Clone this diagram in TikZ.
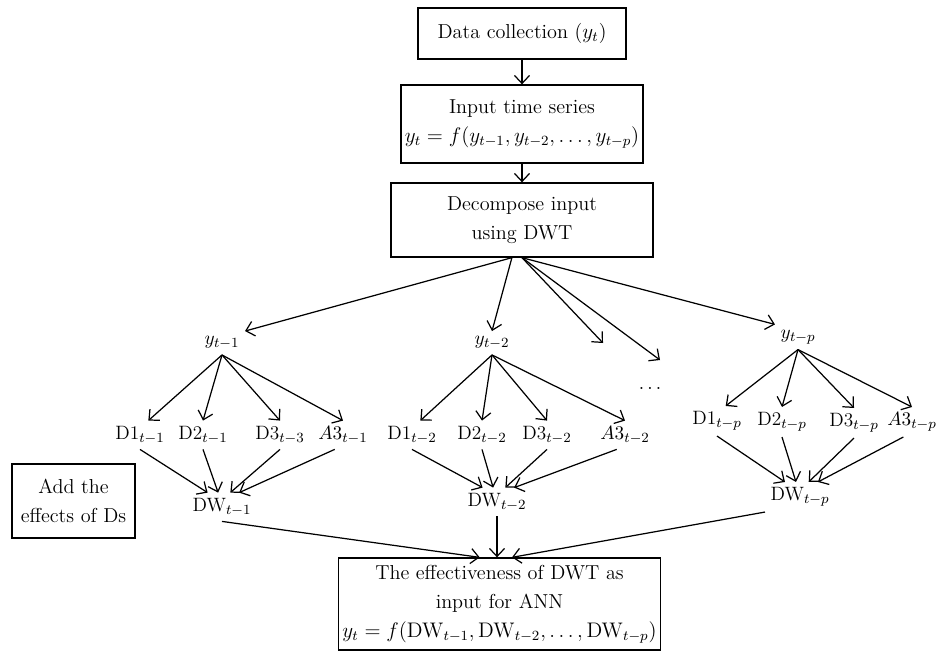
\documentclass[tikz,border=0pt]{standalone}
\usetikzlibrary{arrows.meta}
\begin{document}
\begin{tikzpicture}[
    box/.style={draw, line width=0.75pt, align=center, font=\fontsize{11.5}{16.5}\selectfont, inner sep=2pt},
    lbl/.style={inner sep=3pt, font=\fontsize{11}{13}\selectfont},
    arrow/.style={-{Straight Barb[length=1.6mm,width=3mm]}, line width=0.7pt}
  ]
  \useasboundingbox (0,0) rectangle (18.74,-13.04);

  % Main boxes
  \node[box, minimum width=4.16cm, minimum height=1.02cm] (data) at (10.44,-0.67) {Data collection ($y_t$)};
  \node[box, minimum width=4.84cm, minimum height=1.56cm] (input) at (10.44,-2.48) {Input time series\\$y_t = f(y_{t-1}, y_{t-2}, \dots, y_{t-p})$};
  \node[box, minimum width=5.24cm, minimum height=1.48cm] (decomp) at (10.44,-4.40) {Decompose input\\using DWT};
  \node[box, minimum width=2.46cm, minimum height=1.48cm] (effects) at (1.47,-10.02) {Add the\\effects of Ds};
  \node[box, minimum width=6.42cm, minimum height=1.84cm] (ann) at (9.99,-12.08) {The effectiveness of DWT as\\input for ANN\\$y_t = f(\mathrm{DW}_{t-1}, \mathrm{DW}_{t-2}, \dots, \mathrm{DW}_{t-p})$};

  % Lagged inputs
  \node[lbl] (y1) at (4.44,-6.86) {$y_{t-1}$};
  \node[lbl] (y2) at (9.84,-6.86) {$y_{t-2}$};
  \node[lbl] (yp) at (15.96,-6.74) {$y_{t-p}$};
  \node[lbl] (dots) at (13.00,-7.76) {$\dots$};
  \coordinate (dotsa) at (12.06,-6.86);
  \coordinate (dotsb) at (13.20,-7.20);

  % Wavelet components
  \node[lbl] (d11) at (2.80,-8.70) {D1$_{t-1}$};
  \node[lbl] (d21) at (4.06,-8.70) {D2$_{t-1}$};
  \node[lbl] (d31) at (5.60,-8.70) {D3$_{t-3}$};
  \node[lbl] (a31) at (6.86,-8.70) {$A3_{t-1}$};
  \node[lbl] (d12) at (8.24,-8.70) {D1$_{t-2}$};
  \node[lbl] (d22) at (9.64,-8.70) {D2$_{t-2}$};
  \node[lbl] (d32) at (10.94,-8.70) {D3$_{t-2}$};
  \node[lbl] (a32) at (12.50,-8.70) {$A3_{t-2}$};
  \node[lbl] (d1p) at (14.34,-8.42) {D1$_{t-p}$};
  \node[lbl] (d2p) at (15.64,-8.44) {D2$_{t-p}$};
  \node[lbl] (d3p) at (17.08,-8.46) {D3$_{t-p}$};
  \node[lbl] (a3p) at (18.24,-8.44) {$A3_{t-p}$};

  % Summed details
  \node[lbl] (dw1) at (4.44,-10.14) {DW$_{t-1}$};
  \node[lbl] (dw2) at (9.94,-10.04) {DW$_{t-2}$};
  \node[lbl] (dwp) at (16.00,-9.94) {DW$_{t-p}$};

  % Connections
  \draw[arrow] (data.south) -- (input.north);
  \draw[arrow] (input.south) -- (decomp.north);
  \draw[arrow] (decomp.-105) -- (y1.north east);
  \draw[arrow] (decomp.-105) -- (y2.north);
  \draw[arrow] (decomp.south) -- (dotsa);
  \draw[arrow] (decomp.south) -- (dotsb);
  \draw[arrow] (decomp.south) -- (yp.north west);

  \foreach \g in {1,2,p} {
    \draw[arrow] (y\g.south) -- (d1\g.60);
    \draw[arrow] (y\g.south) -- (d2\g.north);
    \draw[arrow] (y\g.south) -- (d3\g.north);
    \draw[arrow] (y\g.south) -- (a3\g.north);
    \draw[arrow] (d1\g.south) -- (dw\g.135);
    \draw[arrow] (d2\g.south) -- (dw\g.105);
    \draw[arrow] (d3\g.south) -- (dw\g.60);
    \draw[arrow] (a3\g.-120) -- (dw\g.40);
  }

  \draw[arrow] (dw1.south) -- (ann.113);
  \draw[arrow] (dw2.south) -- (dw2.south |- ann.north);
  \draw[arrow] (dwp.south west) -- (ann.75);
\end{tikzpicture}
\end{document}
